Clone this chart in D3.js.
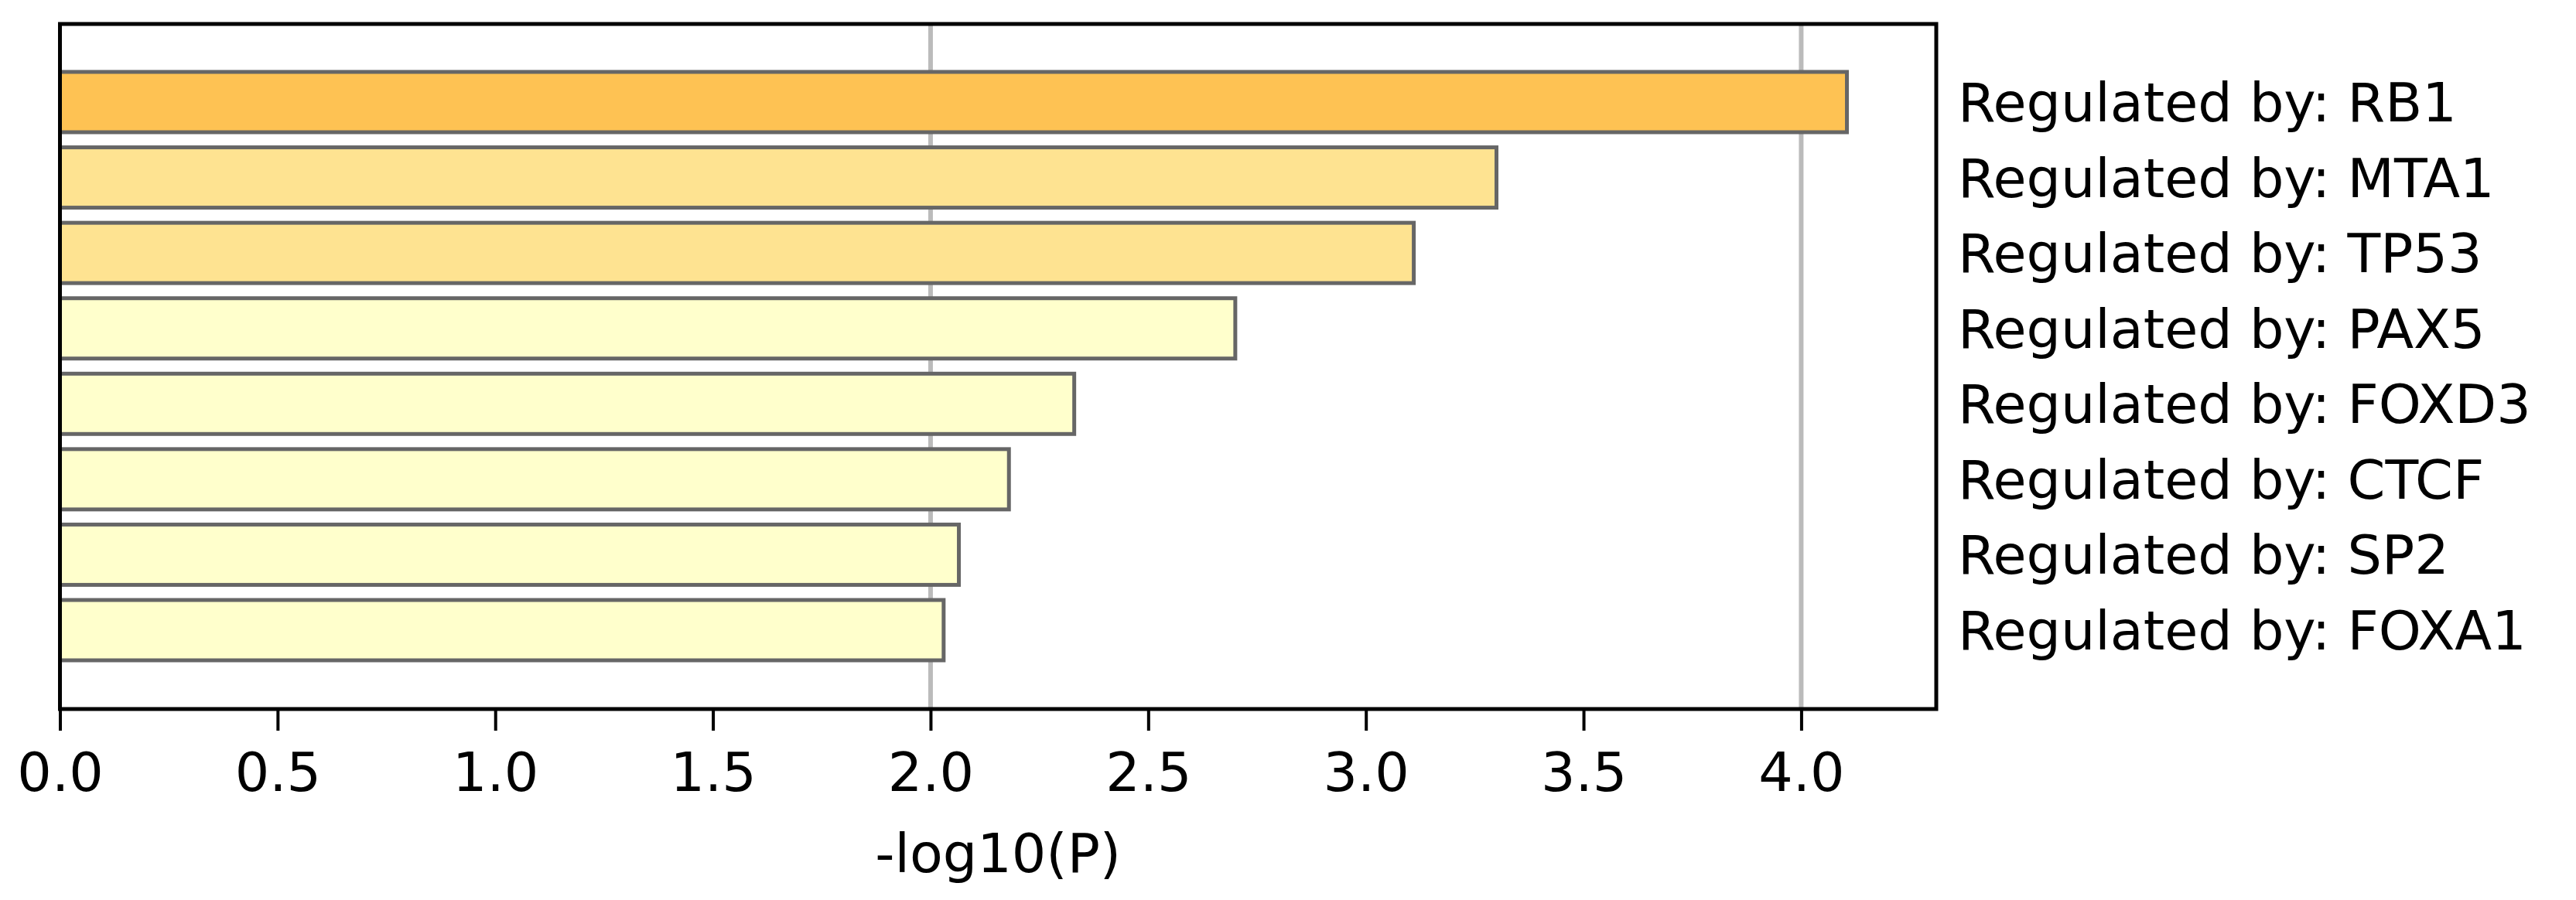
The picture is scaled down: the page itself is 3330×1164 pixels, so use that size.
<!DOCTYPE html>
<html><head><meta charset="utf-8">
<script src="https://cdn.jsdelivr.net/npm/d3@7"></script>
<style>body{margin:0;background:#fff}svg{display:block}text{font-family:"DejaVu Sans",sans-serif}</style>
</head><body>
<svg id="c" width="3330" height="1164"></svg>
<script>
const categories = ["Regulated by: RB1","Regulated by: MTA1","Regulated by: TP53","Regulated by: PAX5","Regulated by: FOXD3","Regulated by: CTCF","Regulated by: SP2","Regulated by: FOXA1"];
const values = [4.105, 3.30, 3.11, 2.70, 2.33, 2.18, 2.065, 2.03];
const colors = ["#FEC253","#FEE391","#FEE391","#FFFFCC","#FFFFCC","#FFFFCC","#FFFFCC","#FFFFCC"];
const xTicks = [0.0,0.5,1.0,1.5,2.0,2.5,3.0,3.5,4.0];
const gridLines = [2.0, 4.0];
const xLabel = "-log10(P)";

const svg = d3.select("#c");
const L=77.5, R=2503, T=31, B=917;
const x = d3.scaleLinear().domain([0, 4.105*1.05]).range([L, R]);
const y = d3.scaleLinear().domain([0, 7]).range([132, 815]);
const bh = 78;

svg.selectAll("line.grid").data(gridLines).enter().append("line")
  .attr("x1", d=>x(d)).attr("x2", d=>x(d)).attr("y1", T).attr("y2", B)
  .attr("stroke", "#bbbbbb").attr("stroke-width", 6);

svg.selectAll("rect.bar").data(values).enter().append("rect")
  .attr("x", x(0)).attr("y", (d,i)=>y(i)-bh/2)
  .attr("width", d=>x(d)-x(0)).attr("height", bh)
  .attr("fill", (d,i)=>colors[i]).attr("stroke", "#666").attr("stroke-width", 5);

svg.selectAll("text.lab").data(categories).enter().append("text")
  .attr("x", 2531).attr("y", (d,i)=>y(i)+25)
  .attr("font-size", 70).attr("fill", "#000").text(d=>d);

svg.append("rect").attr("x", L).attr("y", T).attr("width", R-L).attr("height", B-T)
  .attr("fill", "none").attr("stroke", "#000").attr("stroke-width", 5);

const ax = svg.append("g").attr("transform", `translate(0,${B})`)
  .call(d3.axisBottom(x).tickValues(xTicks).tickFormat(d3.format(".1f")).tickSize(28).tickSizeOuter(0));
ax.select(".domain").remove();
ax.selectAll(".tick line").attr("stroke", "#000").attr("stroke-width", 4);
ax.selectAll(".tick text").attr("font-size", 70).attr("fill", "#000").attr("dy", 0).attr("y", 106)
  .style("font-family", '"DejaVu Sans",sans-serif');

svg.append("text").attr("x", (L+R)/2).attr("y", 1128).attr("text-anchor", "middle")
  .attr("font-size", 70).attr("fill", "#000").text(xLabel);
</script>
</body></html>
